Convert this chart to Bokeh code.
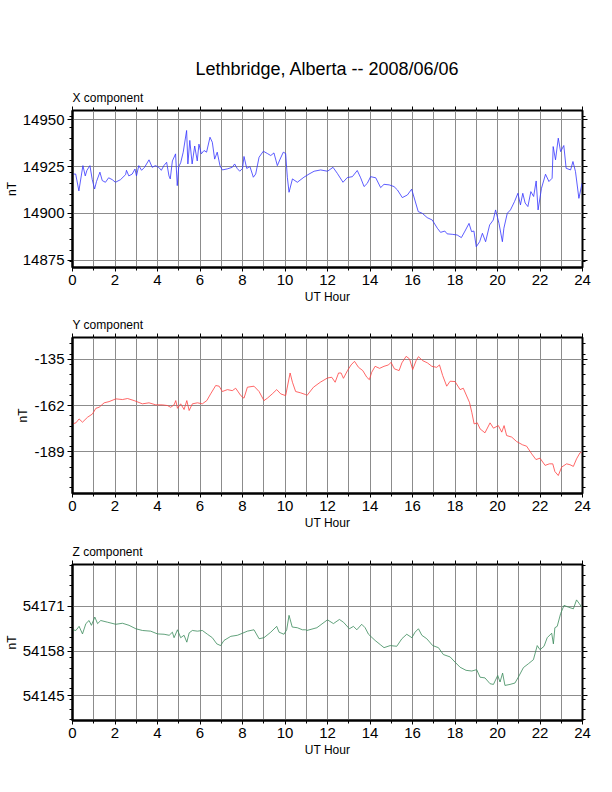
from bokeh.plotting import figure
from bokeh.layouts import column
from bokeh.models import FixedTicker, LinearAxis, Title, Range1d
from bokeh.embed import file_html
from bokeh.resources import INLINE

main_title = "Lethbridge, Alberta -- 2008/06/06"
x_axis_label = "UT Hour"
y_axis_label = "nT"
hour_ticks = [0, 2, 4, 6, 8, 10, 12, 14, 16, 18, 20, 22, 24]

# X component
x_title = "X component"
x_hours = [0.0, 0.15, 0.3, 0.49, 0.6, 0.68, 0.82, 0.93, 1.04, 1.13, 1.29, 1.4, 1.55, 1.7, 1.87,
           2.02, 2.26, 2.5, 2.54, 2.65, 2.81, 2.94, 3.01, 3.12, 3.25, 3.39, 3.6, 3.75, 3.9,
           4.06, 4.18, 4.3, 4.43, 4.54, 4.6, 4.7, 4.85, 4.93, 5.0, 5.09, 5.21, 5.37, 5.43,
           5.52, 5.63, 5.75, 5.87, 5.95, 6.06, 6.19, 6.31, 6.47, 6.58, 6.69, 6.81, 6.94,
           7.05, 7.28, 7.52, 7.63, 7.75, 7.87, 8.0, 8.07, 8.2, 8.35, 8.51, 8.62, 8.78, 8.98,
           9.17, 9.33, 9.48, 9.64, 9.77, 9.92, 10.03, 10.11, 10.19, 10.35, 10.58, 10.89,
           11.13, 11.37, 11.68, 12.0, 12.26, 12.46, 12.73, 12.93, 13.17, 13.4, 13.56, 13.72,
           13.87, 14.03, 14.27, 14.5, 14.66, 14.9, 15.13, 15.29, 15.52, 15.76, 15.96, 16.11,
           16.27, 16.46, 16.69, 16.93, 17.17, 17.32, 17.52, 17.63, 17.87, 18.1, 18.3, 18.47,
           18.66, 18.78, 18.89, 19.0, 19.16, 19.29, 19.44, 19.63, 19.8, 19.91, 20.07, 20.23,
           20.3, 20.46, 20.61, 20.8, 20.96, 21.08, 21.19, 21.3, 21.43, 21.57, 21.7, 21.82,
           21.91, 22.07, 22.26, 22.42, 22.57, 22.62, 22.73, 22.86, 22.97, 23.12, 23.23,
           23.44, 23.55, 23.67, 23.83, 23.98]
x_values = [14921, 14921, 14912, 14925.5, 14920, 14923, 14925.5, 14918, 14913, 14917, 14922,
            14917.5, 14916.6, 14919, 14918, 14916.6, 14918, 14920.7, 14923, 14920, 14921,
            14923.7, 14920, 14925.5, 14923, 14924.6, 14928.6, 14924.6, 14925.5, 14924.6,
            14923, 14925.5, 14927.3, 14920, 14918.4, 14928, 14931.8, 14914.8, 14925, 14927,
            14932.7, 14944.3, 14926.4, 14939, 14926.4, 14936, 14928, 14937, 14931.8, 14933.6,
            14932.7, 14940.7, 14938, 14929, 14932.7, 14925.5, 14923.2, 14923.75, 14924.6,
            14926.4, 14924, 14922.5, 14924, 14930.4, 14924, 14925, 14919.3, 14921, 14930,
            14933.2, 14932, 14930.9, 14932.3, 14925.5, 14929, 14932.7, 14932, 14919.3,
            14911.25, 14918.4, 14916.6, 14919.3, 14921, 14922.5, 14923.2, 14922.5, 14924.6,
            14921.4, 14916.6, 14919.1, 14919.6, 14922.9, 14919, 14914.3, 14916, 14919.6,
            14919, 14913.75, 14915.5, 14915.2, 14914.3, 14912.5, 14908.4, 14909.8, 14912.9,
            14907.1, 14900.9, 14900, 14897.7, 14896.4, 14892, 14889.8, 14890.5, 14889,
            14888.75, 14888.4, 14887, 14890.5, 14894.6, 14890.2, 14890.5, 14882.1, 14884.8,
            14889.3, 14884.8, 14893.75, 14896.4, 14901.8, 14894.6, 14884.8, 14892, 14900,
            14901.8, 14906.25, 14910.7, 14904.5, 14910.7, 14905.5, 14903.6, 14911.6, 14909,
            14917.3, 14901.8, 14913.4, 14920.9, 14917, 14918.75, 14935.7, 14928.6, 14940.2,
            14933, 14936.25, 14924.1, 14923.2, 14927.7, 14922.3, 14908, 14916]
x_tick_labels = ["14875", "14900", "14925", "14950"]

# Y component
y_title = "Y component"
y_hours = [0.0, 0.16, 0.31, 0.47, 0.71, 0.94, 1.1, 1.25, 1.49, 1.72, 2.04, 2.35, 2.59, 2.9,
           3.29, 3.6, 3.92, 4.23, 4.47, 4.62, 4.78, 4.86, 4.94, 5.09, 5.25, 5.38, 5.49, 5.64,
           5.88, 6.11, 6.32, 6.5, 6.74, 6.9, 7.05, 7.29, 7.52, 7.68, 7.92, 8.07, 8.23, 8.54,
           8.78, 9.01, 9.17, 9.4, 9.61, 9.8, 10.03, 10.24, 10.35, 10.5, 10.74, 10.97, 11.03,
           11.34, 11.66, 12.0, 12.2, 12.36, 12.52, 12.64, 12.75, 12.94, 13.11, 13.27, 13.46,
           13.66, 13.85, 13.97, 14.08, 14.24, 14.45, 14.66, 14.87, 14.99, 15.15, 15.37, 15.5,
           15.7, 15.86, 16.01, 16.17, 16.28, 16.48, 16.7, 16.91, 17.14, 17.27, 17.42, 17.61,
           17.77, 18.0, 18.24, 18.39, 18.68, 18.79, 18.9, 19.05, 19.18, 19.41, 19.65, 19.81,
           20.04, 20.2, 20.31, 20.43, 20.67, 20.9, 21.18, 21.37, 21.61, 21.81, 22.0, 22.24,
           22.44, 22.6, 22.7, 22.86, 23.02, 23.25, 23.41, 23.57, 23.72, 23.88, 23.96]
y_values = [-172.7, -172.1, -169.8, -171.7, -168.8, -166.9, -163.6, -163, -160.4, -159.7,
            -158.1, -158.5, -157.9, -159.1, -161, -160.4, -161.6, -161.6, -162, -163, -161.6,
            -159.1, -163.6, -161, -164.3, -159.1, -164.9, -161, -160.4, -161, -159.1, -155.2,
            -150.3, -150.7, -153.8, -152.7, -153.3, -151.9, -156.2, -157.7, -151.3, -150.7,
            -153.8, -159.1, -157.7, -155.2, -152.7, -155.2, -156.2, -143, -148.4, -153.8,
            -154.6, -155.6, -156.2, -151.3, -148.4, -145.9, -145.5, -148.4, -143, -143,
            -146.1, -141.6, -138.3, -136.2, -139.7, -141.6, -145.5, -146.9, -142.6, -139.1,
            -140.3, -139.1, -138.3, -136.8, -140.6, -141.6, -137.1, -133.3, -134.8, -141,
            -135.8, -133.5, -135.8, -137.1, -139.1, -139.7, -138.3, -144.5, -150.7, -147.8,
            -148, -152.7, -151.9, -160.1, -165.9, -172.7, -172.1, -175.6, -177.9, -172.1,
            -175.2, -173.7, -177.5, -173.7, -179.5, -180.4, -183, -184.9, -185.7, -190.2,
            -193.5, -192.7, -196.9, -196, -196, -200.5, -202.8, -197.9, -196, -196.5, -197.5,
            -193.1, -189.6, -189.2]
y_tick_labels = ["-189", "-162", "-135"]

# Z component
z_title = "Z component"
z_hours = [0.0, 0.16, 0.31, 0.47, 0.63, 0.78, 0.89, 1.05, 1.18, 1.33, 1.65, 2.04, 2.35, 2.66,
           2.98, 3.29, 3.68, 4.0, 4.31, 4.55, 4.7, 4.78, 4.94, 5.09, 5.25, 5.38, 5.49, 5.64,
           5.88, 6.11, 6.35, 6.58, 6.79, 6.97, 7.13, 7.45, 7.76, 8.0, 8.23, 8.54, 8.78, 9.01,
           9.33, 9.61, 9.72, 9.95, 10.08, 10.19, 10.34, 10.58, 10.82, 10.97, 11.03, 11.5,
           12.0, 12.28, 12.56, 12.75, 13.03, 13.22, 13.38, 13.61, 13.77, 13.93, 14.24, 14.48,
           14.66, 14.95, 15.26, 15.5, 15.73, 15.97, 16.12, 16.28, 16.44, 16.67, 16.95, 17.22,
           17.45, 17.77, 18.0, 18.24, 18.52, 18.79, 19.02, 19.18, 19.41, 19.65, 19.81, 20.01,
           20.12, 20.24, 20.35, 20.59, 20.82, 20.98, 21.22, 21.45, 21.69, 21.87, 22.0, 22.19,
           22.34, 22.55, 22.63, 22.7, 22.81, 22.97, 23.13, 23.33, 23.57, 23.72, 23.85, 23.96]
z_values = [54164.2, 54164, 54165.2, 54163, 54166, 54166.9, 54165.5, 54167.9, 54166, 54166.9,
            54166.4, 54165.8, 54166.1, 54165.5, 54164.5, 54164, 54163.8, 54163, 54162.9,
            54162.6, 54163.5, 54161.9, 54164.2, 54161.9, 54162.6, 54160.6, 54163.3, 54164,
            54163.8, 54164, 54162.9, 54161.9, 54160.1, 54159.6, 54161.1, 54162.3, 54162.6,
            54163.2, 54163.8, 54164.2, 54161.6, 54161.9, 54163.5, 54165.2, 54163.5, 54162.9,
            54164.2, 54168.4, 54165, 54164.8, 54164.2, 54164.2, 54164, 54164.8, 54167.1,
            54166, 54167.2, 54166.4, 54164.5, 54165.2, 54164.2, 54165.8, 54164.8, 54162.9,
            54161.1, 54159.9, 54159, 54159.6, 54159.4, 54161.6, 54162.9, 54161.9, 54163.5,
            54164.5, 54162.6, 54161.6, 54159.6, 54159, 54157, 54156.3, 54154.8, 54153.3,
            54152.4, 54152.2, 54152.6, 54150.4, 54150.2, 54148.5, 54148.3, 54150.9, 54149,
            54151.6, 54148, 54148.3, 54148.7, 54150.4, 54153.2, 54154.3, 54155.5, 54159.6,
            54158.4, 54159.4, 54161.9, 54163.2, 54160.1, 54164.8, 54165.2, 54168.9, 54171.3,
            54170.8, 54170.3, 54172.9, 54171.8, 54170.8]
z_tick_labels = ["54145", "54158", "54171"]

FONT = "Liberation Sans"
GRID = "#8c8c8c"


def tick_only_axis(ticks, minor, tick_len):
    ax = LinearAxis(ticker=FixedTicker(ticks=ticks, minor_ticks=minor),
                    major_label_overrides={t: "" for t in ticks},
                    major_label_text_color=None, major_label_text_font_size="1px",
                    major_label_standoff=0, axis_line_color=None,
                    major_tick_in=0, minor_tick_in=0, major_tick_out=tick_len, minor_tick_out=3,
                    major_tick_line_color="black", minor_tick_line_color="black")
    return ax


def make_panel(hours, values, color, comp_title, tick_labels, ymin, ymax, minor_step,
               height, top_border, with_main=False):
    p = figure(width=604, height=height, output_backend="svg", toolbar_location=None,
               x_range=Range1d(0, 24), y_range=Range1d(ymin, ymax),
               min_border_left=72, min_border_right=22, min_border_top=top_border,
               min_border_bottom=43, x_axis_label=x_axis_label, y_axis_label=y_axis_label)
    bottom_axis = p.below[0]
    left_axis = p.left[0]

    majors = [float(s) for s in tick_labels]
    lo = int(ymin // minor_step + 1) * minor_step
    minors = [v for v in range(int(lo), int(ymax) + 1, minor_step)]
    odd_hours = list(range(1, 24, 2))

    p.add_layout(tick_only_axis(hour_ticks, odd_hours, 4), "above")
    p.add_layout(tick_only_axis(majors, minors, 5), "right")

    if with_main:
        p.title.text = main_title
        p.title.align = "center"
        p.title.text_font_size = "18px"
        p.title.standoff = 17
        comp = Title(text=comp_title, align="left", text_font=FONT, text_font_size="12px",
                     text_font_style="normal", text_color="black", standoff=3)
        p.add_layout(comp, "above")
    else:
        p.title.text = comp_title
        p.title.align = "left"
        p.title.text_font_size = "12px"
        p.title.standoff = 3
    p.title.text_font = FONT
    p.title.text_font_style = "normal"
    p.title.text_color = "black"

    p.line(hours, values, line_color=color, line_width=0.8)

    p.outline_line_color = "black"
    p.outline_line_width = 2

    bottom_axis.ticker = FixedTicker(ticks=hour_ticks, minor_ticks=odd_hours)
    left_axis.ticker = FixedTicker(ticks=majors, minor_ticks=minors)
    left_axis.major_label_overrides = {float(s): s for s in tick_labels}
    for ax in (bottom_axis, left_axis):
        ax.axis_line_color = "black"
        ax.axis_line_width = 2
        ax.major_tick_line_color = "black"
        ax.minor_tick_line_color = "black"
        ax.major_tick_in = 0
        ax.minor_tick_in = 0
        ax.major_label_text_font = FONT
        ax.major_label_text_font_size = "15px"
        ax.major_label_text_color = "black"
        ax.axis_label_text_font = FONT
        ax.axis_label_text_font_size = "12px"
        ax.axis_label_text_font_style = "normal"
        ax.axis_label_text_color = "black"
    bottom_axis.major_tick_out = 4
    bottom_axis.minor_tick_out = 3
    bottom_axis.major_label_standoff = 3
    bottom_axis.axis_label_standoff = 2
    left_axis.major_tick_out = 5
    left_axis.minor_tick_out = 3
    left_axis.major_label_standoff = 3
    left_axis.axis_label_standoff = 1

    p.xgrid.ticker = FixedTicker(ticks=list(range(0, 25)))
    p.ygrid.ticker = FixedTicker(ticks=majors)
    p.xgrid.grid_line_color = GRID
    p.ygrid.grid_line_color = GRID
    p.xgrid.grid_line_width = 1
    p.ygrid.grid_line_width = 1
    return p


p1 = make_panel(x_hours, x_values, "#3333ff", x_title, x_tick_labels, 14871, 14955, 6,
                310, 110, with_main=True)
p2 = make_panel(y_hours, y_values, "#ff4040", y_title, y_tick_labels, -213.3, -122.3, 6,
                226, 27)
p3 = make_panel(z_hours, z_values, "#3a8a5a", z_title, z_tick_labels, 54137.8, 54183.2, 3,
                227, 28)

layout = column(p1, p2, p3, spacing=0)
open("out.html", "w").write(file_html(layout, INLINE))
